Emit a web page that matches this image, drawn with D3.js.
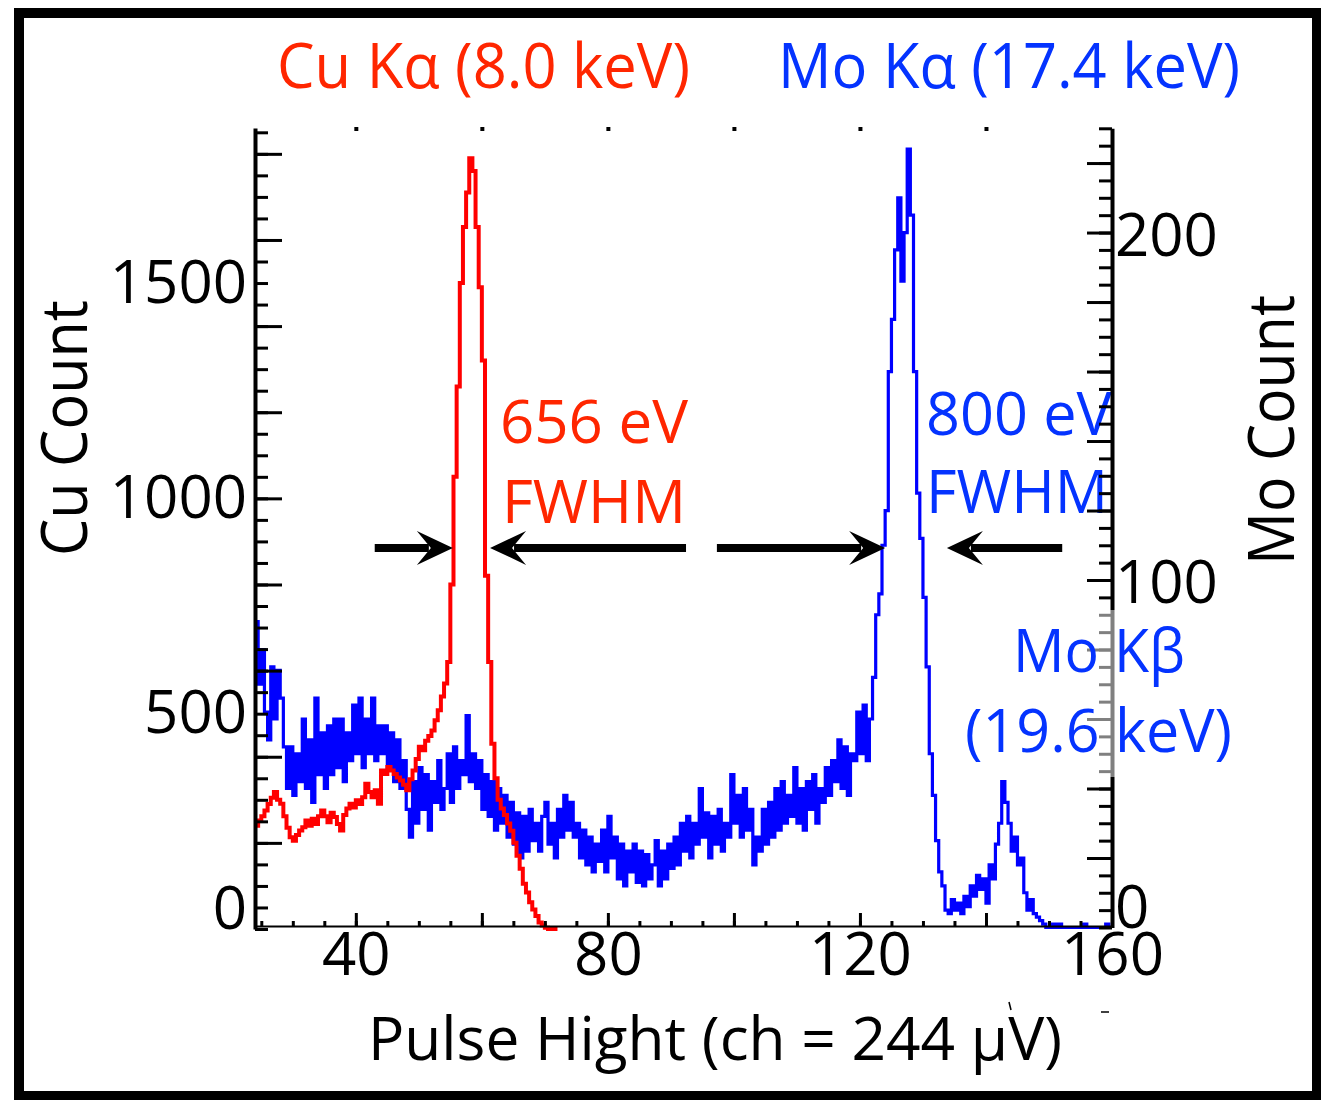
<!DOCTYPE html>
<html>
<head>
<meta charset="utf-8">
<script src="https://cdn.jsdelivr.net/npm/d3@7"></script>
<style>
  body { margin: 0; background: #fff; }
  svg text { font-family: "Open Sans", "Noto Sans", sans-serif; }
</style>
</head>
<body>
<svg id="chart" width="1321" height="1100"></svg>
<script>
// channel bins (pulse height, ch) - first bin edge and bin width
const channelStart = 24;
const channelStep = 0.5;

// Cu spectrum, counts per bin (left axis)
const cuCounts = [
  240, 252, 262, 275, 290, 305, 318, 300, 291, 262,
  235, 213, 205, 218, 229, 236, 252, 240, 256, 244,
  262, 275, 262, 248, 270, 260, 244, 229, 265, 280,
  291, 282, 299, 290, 306, 337, 318, 306, 322, 291,
  368, 360, 376, 368, 360, 352, 345, 335, 322, 348,
  368, 395, 423, 415, 437, 448, 461, 485, 508, 540,
  570, 620, 800, 1050, 1260, 1500, 1630, 1710, 1790, 1760,
  1630, 1490, 1320, 820, 620, 430, 350, 300, 280, 265,
  245, 228, 200, 170, 140, 105, 85, 62, 45, 30,
  15, 8, 3, 0, 0, 0
];

// Mo spectrum, counts per bin (right axis)
const moCounts = [
  88, 70, 80, 62, 54, 75, 60, 74, 66, 52,
  40, 52, 38, 50, 42, 60, 40, 54, 36, 66,
  44, 56, 40, 58, 44, 60, 46, 60, 42, 56,
  48, 64, 50, 66, 46, 60, 50, 66, 48, 58,
  50, 58, 46, 56, 42, 54, 40, 48, 34, 26,
  42, 30, 46, 34, 44, 28, 42, 36, 48, 34,
  40, 50, 36, 52, 40, 48, 44, 61, 42, 50,
  40, 48, 34, 44, 32, 42, 28, 40, 30, 38,
  26, 36, 24, 33, 20, 32, 22, 34, 25, 30,
  22, 32, 36, 24, 30, 20, 34, 26, 38, 28,
  36, 26, 30, 20, 28, 18, 26, 16, 24, 19,
  28, 16, 32, 20, 26, 14, 24, 12, 22, 16,
  24, 13, 22, 12, 21, 14, 18, 25, 12, 22,
  14, 24, 17, 26, 18, 30, 22, 32, 20, 30,
  24, 40, 26, 33, 20, 32, 24, 34, 22, 30,
  26, 44, 30, 38, 26, 40, 28, 34, 18, 26,
  22, 34, 24, 36, 26, 40, 28, 42, 30, 38,
  32, 46, 30, 40, 28, 42, 34, 44, 30, 40,
  36, 46, 38, 48, 42, 54, 40, 52, 38, 50,
  48, 62, 50, 64, 48, 60, 72, 90, 96, 110,
  120, 160, 175, 195, 210, 186, 200, 224, 205, 160,
  125, 112, 95, 75, 50, 38, 25, 16, 12, 5,
  4, 8, 5, 7, 4, 9, 6, 12, 9, 15,
  11, 14, 7, 18, 14, 24, 30, 42, 36, 30,
  22, 26, 18, 20, 10, 5, 8, 4, 3, 2,
  1, 0, 0, 1, 0, 1, 0, 0, 0, 0,
  0, 0, 0, 1, 0, 0, 0, 0, 0, 0,
  1, 0
];

// tick labels
const xTickLabels = [40, 80, 120, 160];
const cuTickLabels = [0, 500, 1000, 1500];
const moTickLabels = [0, 100, 200];

// FWHM arrows: tail and tip in channels, drawn at a Cu count level
const fwhmArrows = [
  { from: 43.0, to: 55.4 },
  { from: 92.4, to: 61.3 },
  { from: 97.3, to: 124.0 },
  { from: 152.1, to: 133.8 }
];
const arrowLevel = 885;

const red = "#ff2600";
const blue = "#0433ff";

const svg = d3.select("#chart");

const x = d3.scaleLinear().domain([24, 160]).range([255, 1112]);
const yCu = d3.scaleLinear().domain([0, 1860]).range([929, 128]);
const yMo = d3.scaleLinear().domain([0, 230]).range([927.5, 128.3]);

function toBins(counts) {
  const pts = counts.map((v, i) => ({ ch: channelStart + i * channelStep, v }));
  pts.push({ ch: channelStart + counts.length * channelStep, v: counts[counts.length - 1] });
  return pts;
}

// outer frame
svg.append("rect")
  .attr("x", 19).attr("y", 13)
  .attr("width", 1298).attr("height", 1083)
  .attr("fill", "#fff")
  .attr("stroke", "#000")
  .attr("stroke-width", 10);

// spectra
const moLine = d3.line().x(d => x(d.ch)).y(d => yMo(d.v)).curve(d3.curveStepAfter);
const cuLine = d3.line().x(d => x(d.ch)).y(d => yCu(d.v)).curve(d3.curveStepAfter);

svg.append("path")
  .datum(toBins(moCounts))
  .attr("d", moLine)
  .attr("fill", "none")
  .attr("stroke", "#0000ff")
  .attr("stroke-width", 3.2);

svg.append("path")
  .datum(toBins(cuCounts))
  .attr("d", cuLine)
  .attr("fill", "none")
  .attr("stroke", "#ff0000")
  .attr("stroke-width", 4);

// text helper
function label(g, txt, px, py, size, len, color) {
  return g.append("text")
    .attr("x", px).attr("y", py)
    .attr("font-size", size)
    .attr("fill", color)
    .attr("textLength", len)
    .attr("lengthAdjust", "spacingAndGlyphs")
    .text(txt);
}

label(svg, "Cu K\u03b1 (8.0 keV)", 277, 88, 62, 413, red);
label(svg, "Mo K\u03b1 (17.4 keV)", 778, 88, 62, 462, blue);
label(svg, "656 eV", 500, 443, 60, 188, red);
label(svg, "FWHM", 502, 523, 60, 184, red);
label(svg, "800 eV", 926, 435, 60, 186, blue);
label(svg, "FWHM", 926, 513, 60, 182, blue);

label(svg, "Pulse Hight (ch = 244 \u03bcV)", 368, 1060, 60, 694, "#000");
label(svg.append("g").attr("transform", "translate(87,556) rotate(-90)"),
  "Cu Count", 0, 0, 64, 256, "#000");
label(svg.append("g").attr("transform", "translate(1294,565) rotate(-90)"),
  "Mo Count", 0, 0, 64, 270, "#000");

// axes
function styleTicks(g, w) {
  g.selectAll(".tick line").attr("stroke", "#000").attr("stroke-width", w);
}

// left (Cu) axis, ticks inward
const cuMinor = svg.append("g").attr("transform", "translate(255,0)")
  .call(d3.axisRight(yCu).tickValues(d3.range(0, 1851, 50)).tickSize(13).tickSizeOuter(0).tickFormat(""));
cuMinor.select(".domain").attr("stroke", "#000").attr("stroke-width", 4);
styleTicks(cuMinor, 3);
const cuMajor = svg.append("g").attr("transform", "translate(255,0)")
  .call(d3.axisRight(yCu).tickValues(d3.range(200, 1801, 200)).tickSize(27).tickFormat(""));
cuMajor.select(".domain").remove();
styleTicks(cuMajor, 3);
const cuLab = svg.append("g").attr("transform", "translate(255,0)")
  .call(d3.axisLeft(yCu).tickValues(cuTickLabels).tickSize(0).tickPadding(8).tickFormat(d3.format("d")));
cuLab.select(".domain").remove();
cuLab.selectAll("text").attr("font-size", 60).attr("fill", "#000")
  .attr("dy", d => d === 0 ? "0em" : "0.32em")
  .attr("y", d => d === 0 ? -1 : 0);

// right (Mo) axis, ticks inward
const moMinor = svg.append("g").attr("transform", "translate(1112,0)")
  .call(d3.axisLeft(yMo).tickValues(d3.range(0, 231, 5)).tickSize(13).tickSizeOuter(0).tickFormat(""));
moMinor.select(".domain").attr("stroke", "#000").attr("stroke-width", 4);
styleTicks(moMinor, 3);
const moMajor = svg.append("g").attr("transform", "translate(1112,0)")
  .call(d3.axisLeft(yMo).tickValues(d3.range(20, 221, 20)).tickSize(25).tickFormat(""));
moMajor.select(".domain").remove();
styleTicks(moMajor, 3);
const moLab = svg.append("g").attr("transform", "translate(1112,0)")
  .call(d3.axisRight(yMo).tickValues(moTickLabels).tickSize(0).tickPadding(3).tickFormat(d3.format("d")));
moLab.select(".domain").remove();
moLab.selectAll("text").attr("font-size", 60).attr("fill", "#000")
  .attr("dy", d => d === 0 ? "0em" : "0.38em");

// bottom axis, ticks pointing up
const xMinor = svg.append("g").attr("transform", "translate(0,926)")
  .call(d3.axisTop(x).tickValues(d3.range(25, 161, 5)).tickSize(5).tickSizeOuter(0).tickFormat(""));
xMinor.select(".domain").attr("stroke", "#000").attr("stroke-width", 2);
styleTicks(xMinor, 3);
const xMajor = svg.append("g").attr("transform", "translate(0,926)")
  .call(d3.axisTop(x).tickValues(d3.range(40, 161, 20)).tickSize(13).tickFormat(""));
xMajor.select(".domain").remove();
styleTicks(xMajor, 3);
const xLab = svg.append("g").attr("transform", "translate(0,926)")
  .call(d3.axisBottom(x).tickValues(xTickLabels).tickSize(0).tickPadding(6));
xLab.select(".domain").remove();
xLab.selectAll("text").attr("font-size", 60).attr("fill", "#000");

// top axis: only small marks
const xTop = svg.append("g").attr("transform", "translate(0,127)")
  .call(d3.axisBottom(x).tickValues(d3.range(40, 141, 20)).tickSize(4).tickFormat(""));
xTop.select(".domain").remove();
styleTicks(xTop, 4);

// half transparent box behind the Mo K-beta label
svg.append("rect")
  .attr("x", 960).attr("y", 610)
  .attr("width", 276).attr("height", 167)
  .attr("fill", "#fff")
  .attr("opacity", 0.5);
label(svg, "Mo K\u03b2", 1013, 672, 60, 172, blue);
label(svg, "(19.6 keV)", 965, 752, 60, 267, blue);

// FWHM arrows
const arrowG = svg.append("g");
fwhmArrows.forEach(a => {
  const dir = a.to > a.from ? 1 : -1;
  const tip = x(a.to);
  const py = yCu(arrowLevel);
  arrowG.append("line")
    .attr("x1", x(a.from)).attr("x2", tip - dir * 24)
    .attr("y1", py).attr("y2", py)
    .attr("stroke", "#000")
    .attr("stroke-width", 8);
  arrowG.append("path")
    .attr("d", `M${tip},${py} L${tip - dir * 36},${py - 17} L${tip - dir * 22},${py} L${tip - dir * 36},${py + 17} Z`)
    .attr("fill", "#000");
});

// stray marks left in the source figure
svg.append("line").attr("x1", 1009).attr("y1", 1002).attr("x2", 1011).attr("y2", 1010)
  .attr("stroke", "#000").attr("stroke-width", 1.5);
svg.append("line").attr("x1", 1101).attr("y1", 1012).attr("x2", 1109).attr("y2", 1012)
  .attr("stroke", "#000").attr("stroke-width", 1.5);
</script>
</body>
</html>
